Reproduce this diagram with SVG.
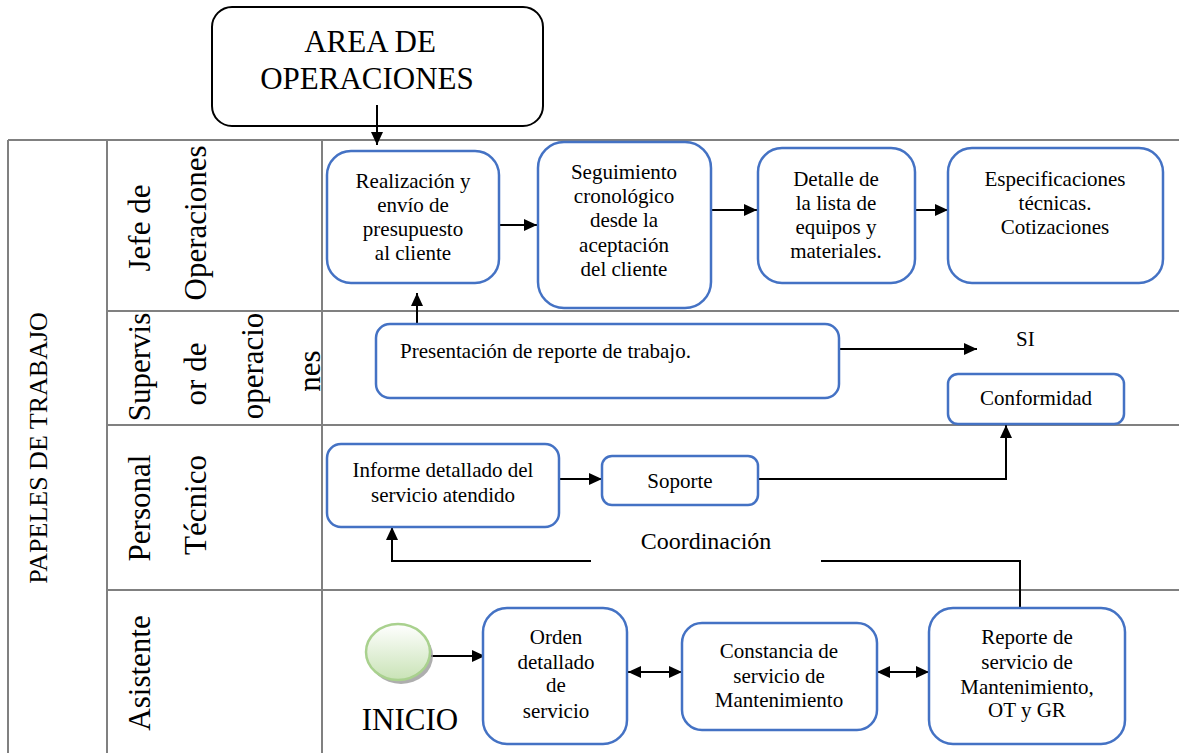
<svg xmlns="http://www.w3.org/2000/svg" width="1179" height="753" viewBox="0 0 1179 753">
<style>
.grid{stroke:#808080;stroke-width:2;fill:none}
.node{fill:#fff;stroke:#4472C4;stroke-width:2.5}
.t{font-family:'Liberation Serif','DejaVu Serif',serif;font-size:21px;fill:#000;text-anchor:middle}
.ts{font-family:'Liberation Serif','DejaVu Serif',serif;font-size:21px;fill:#000;text-anchor:start}
.lane{font-family:'Liberation Serif','DejaVu Serif',serif;font-size:31px;fill:#000;text-anchor:middle}
.pap{font-family:'Liberation Serif','DejaVu Serif',serif;font-size:26px;fill:#000;text-anchor:middle}
.coord{font-family:'Liberation Serif','DejaVu Serif',serif;font-size:24px;fill:#000;text-anchor:middle}
.c{stroke:#000;stroke-width:2;fill:none}
</style>
<defs>
<marker id="ah" markerUnits="userSpaceOnUse" markerWidth="14" markerHeight="12" refX="13" refY="6" orient="auto-start-reverse">
<path d="M0,0 L13,6 L0,12 z" fill="#000"/>
</marker>
<linearGradient id="sg" x1="0" y1="0" x2="0" y2="1">
<stop offset="0" stop-color="#ffffff"/>
<stop offset="1" stop-color="#c9e3b6"/>
</linearGradient>
</defs>
<rect width="1179" height="753" fill="#fff"/>
<g id="grid">
<line class="grid" x1="8" y1="140" x2="1179" y2="140"/>
<line class="grid" x1="8" y1="140" x2="8" y2="753"/>
<line class="grid" x1="107" y1="140" x2="107" y2="753"/>
<line class="grid" x1="322" y1="140" x2="322" y2="753"/>
<line class="grid" x1="107" y1="311" x2="1179" y2="311"/>
<line class="grid" x1="107" y1="425" x2="1179" y2="425"/>
<line class="grid" x1="107" y1="590" x2="1179" y2="590"/>
</g>
<g id="labels">
<text class="pap" transform="translate(47,448) rotate(-90)">PAPELES DE TRABAJO</text>
<text class="lane" transform="translate(150,228) rotate(-90)">Jefe de</text>
<text class="lane" transform="translate(206,223) rotate(-90)">Operaciones</text>
<text class="lane" transform="translate(150,367) rotate(-90)">Supervis</text>
<text class="lane" transform="translate(206,374) rotate(-90)">or de</text>
<text class="lane" transform="translate(263,366) rotate(-90)">operacio</text>
<text class="lane" transform="translate(320,371) rotate(-90)">nes</text>
<text class="lane" transform="translate(150,508) rotate(-90)">Personal</text>
<text class="lane" transform="translate(206,505) rotate(-90)">Técnico</text>
<text class="lane" transform="translate(150,673) rotate(-90)">Asistente</text>
</g>
<g id="area">
<rect x="212" y="7" width="331" height="119" rx="20" fill="#fff" stroke="#000" stroke-width="2"/>
<text class="lane" x="370" y="52">AREA DE</text>
<text class="lane" x="367" y="89">OPERACIONES</text>
</g>
<g id="connectors">
<line class="c" x1="377" y1="105" x2="377" y2="145" marker-end="url(#ah)"/>
<line class="c" x1="499" y1="225" x2="537" y2="225" marker-end="url(#ah)"/>
<line class="c" x1="711" y1="210" x2="757" y2="210" marker-end="url(#ah)"/>
<line class="c" x1="915" y1="210" x2="948" y2="210" marker-end="url(#ah)"/>
<line class="c" x1="417" y1="324" x2="417" y2="293" marker-end="url(#ah)"/>
<line class="c" x1="839" y1="349" x2="977" y2="349" marker-end="url(#ah)"/>
<line class="c" x1="556" y1="479" x2="602" y2="479" marker-end="url(#ah)"/>
<polyline class="c" points="758,479 1006,479 1006,425" marker-end="url(#ah)"/>
<polyline class="c" points="1020,607 1020,561 821,561"/>
<polyline class="c" points="591,561 392,561 392,527" marker-end="url(#ah)"/>
<line class="c" x1="431" y1="656" x2="485" y2="656" marker-end="url(#ah)"/>
<line class="c" x1="628" y1="672" x2="682" y2="672" marker-start="url(#ah)" marker-end="url(#ah)"/>
<line class="c" x1="877" y1="672" x2="929" y2="672" marker-start="url(#ah)" marker-end="url(#ah)"/>
</g>
<g id="n-realizacion">
<rect class="node" x="327" y="151" width="172" height="132" rx="24"/>
<text class="t" x="413" y="188">Realización y</text>
<text class="t" x="413" y="212">envío de</text>
<text class="t" x="413" y="236">presupuesto</text>
<text class="t" x="413" y="260">al cliente</text>
</g>
<g id="n-seguimiento">
<rect class="node" x="538" y="142" width="173" height="166" rx="26"/>
<text class="t" x="624" y="179">Seguimiento</text>
<text class="t" x="624" y="203">cronológico</text>
<text class="t" x="624" y="227">desde la</text>
<text class="t" x="624" y="252">aceptación</text>
<text class="t" x="624" y="276">del cliente</text>
</g>
<g id="n-detalle">
<rect class="node" x="758" y="148" width="157" height="135" rx="24"/>
<text class="t" x="836" y="186">Detalle de</text>
<text class="t" x="836" y="210">la lista de</text>
<text class="t" x="836" y="234">equipos y</text>
<text class="t" x="836" y="258">materiales.</text>
</g>
<g id="n-especificaciones">
<rect class="node" x="948" y="148" width="215" height="135" rx="24"/>
<text class="t" x="1055" y="186">Especificaciones</text>
<text class="t" x="1055" y="210">técnicas.</text>
<text class="t" x="1055" y="234">Cotizaciones</text>
</g>
<g id="n-presentacion">
<rect class="node" x="376" y="324" width="463" height="74" rx="14"/>
<text class="ts" x="400" y="358">Presentación de reporte de trabajo.</text>
</g>
<g id="n-si">
<text class="ts" x="1016" y="346">SI</text>
</g>
<g id="n-conformidad">
<rect class="node" x="948" y="374" width="176" height="50" rx="10"/>
<text class="t" x="1036" y="405">Conformidad</text>
</g>
<g id="n-informe">
<rect class="node" x="327" y="444" width="232" height="83" rx="14"/>
<text class="t" x="443" y="477">Informe detallado del</text>
<text class="t" x="443" y="502">servicio atendido</text>
</g>
<g id="n-soporte">
<rect class="node" x="602" y="456" width="156" height="49" rx="10"/>
<text class="t" x="680" y="488">Soporte</text>
</g>
<g id="l-coordinacion">
<text class="coord" x="706" y="549">Coordinación</text>
</g>
<g id="n-inicio">
<ellipse cx="401" cy="656" rx="32" ry="28" fill="#9a9a9a" opacity="0.8"/>
<ellipse cx="398" cy="652" rx="32" ry="28" fill="url(#sg)" stroke="#a9d18e" stroke-width="2.5"/>
<text class="lane" x="410" y="730">INICIO</text>
</g>
<g id="n-orden">
<rect class="node" x="483" y="608" width="144" height="136" rx="24"/>
<text class="t" x="556" y="644">Orden</text>
<text class="t" x="556" y="669">detallado</text>
<text class="t" x="556" y="692">de</text>
<text class="t" x="556" y="718">servicio</text>
</g>
<g id="n-constancia">
<rect class="node" x="682" y="623" width="195" height="107" rx="20"/>
<text class="t" x="779" y="658">Constancia de</text>
<text class="t" x="779" y="683">servicio de</text>
<text class="t" x="779" y="707">Mantenimiento</text>
</g>
<g id="n-reporte">
<rect class="node" x="929" y="608" width="196" height="136" rx="24"/>
<text class="t" x="1027" y="644">Reporte de</text>
<text class="t" x="1027" y="669">servicio de</text>
<text class="t" x="1027" y="694">Mantenimiento,</text>
<text class="t" x="1027" y="717">OT y GR</text>
</g>
</svg>
